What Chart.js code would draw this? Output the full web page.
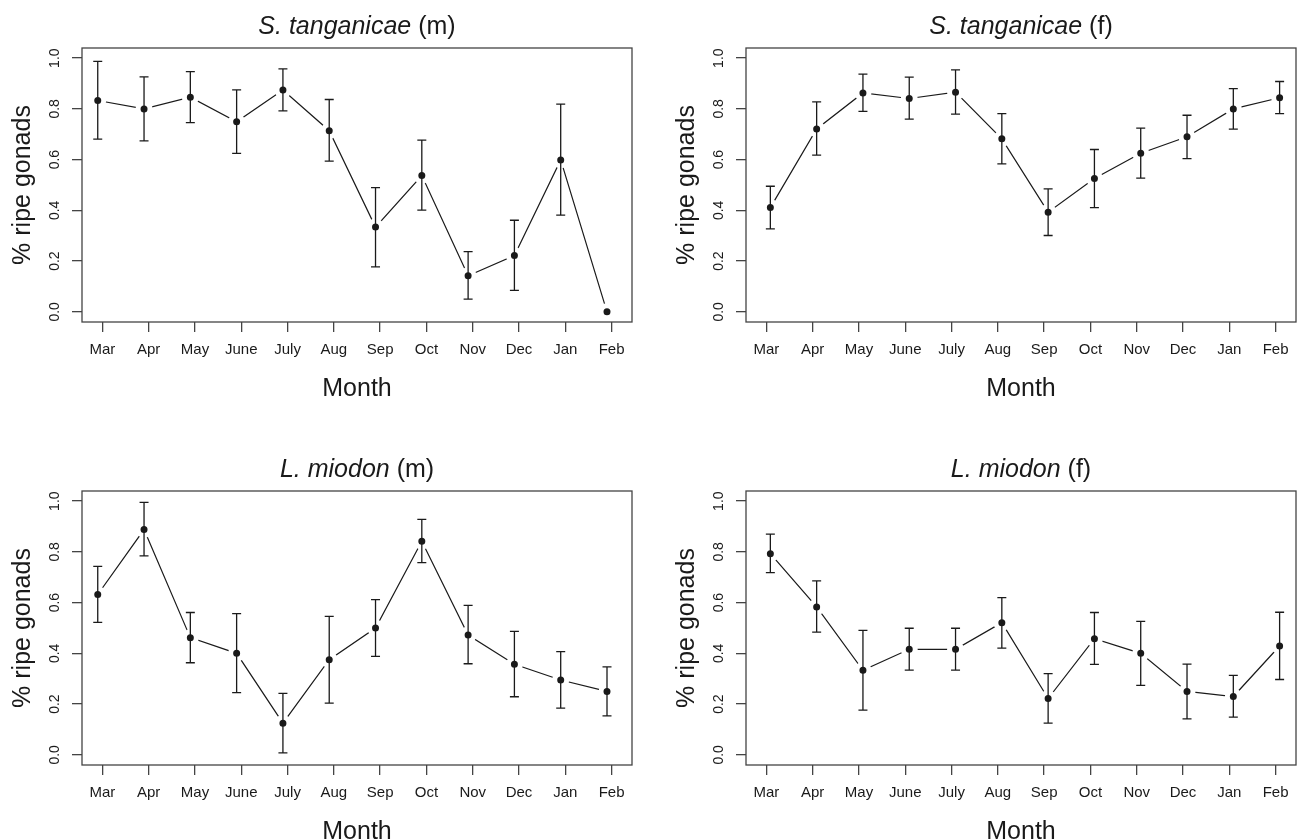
<!DOCTYPE html>
<html>
<head>
<meta charset="utf-8">
<script src="https://cdn.jsdelivr.net/npm/chart.js@4/dist/chart.umd.min.js"></script>
<style>
html, body { margin: 0; padding: 0; background: #fff; width: 1298px; height: 839px; overflow: hidden; }
.panel { position: absolute; width: 634px; height: 420px; }
</style>
</head>
<body>
<div class="panel" style="left:0;top:0"><canvas id="c1" width="634" height="420"></canvas></div>
<div class="panel" style="left:664px;top:0"><canvas id="c2" width="634" height="420"></canvas></div>
<div class="panel" style="left:0;top:443px"><canvas id="c3" width="634" height="420"></canvas></div>
<div class="panel" style="left:664px;top:443px"><canvas id="c4" width="634" height="420"></canvas></div>
<script>
const months = ['Mar', 'Apr', 'May', 'June', 'July', 'Aug', 'Sep', 'Oct', 'Nov', 'Dec', 'Jan', 'Feb'];
const yTicks = [0, 0.2, 0.4, 0.6, 0.8, 1.0];

// S. tanganicae males
const stm   = [0.833, 0.800, 0.846, 0.749, 0.874, 0.714, 0.334, 0.537, 0.142, 0.222, 0.599, 0.000];
const stmLo = [0.681, 0.674, 0.746, 0.625, 0.792, 0.594, 0.177, 0.401, 0.050, 0.085, 0.381, 0.000];
const stmHi = [0.987, 0.926, 0.947, 0.875, 0.958, 0.837, 0.490, 0.677, 0.237, 0.361, 0.819, 0.000];

// S. tanganicae females
const stf   = [0.411, 0.721, 0.863, 0.841, 0.866, 0.682, 0.393, 0.526, 0.625, 0.690, 0.800, 0.844];
const stfLo = [0.327, 0.618, 0.790, 0.760, 0.779, 0.583, 0.301, 0.411, 0.527, 0.604, 0.720, 0.781];
const stfHi = [0.495, 0.828, 0.937, 0.925, 0.954, 0.781, 0.485, 0.640, 0.724, 0.775, 0.880, 0.908];

// L. miodon males
const lmm   = [0.632, 0.888, 0.462, 0.400, 0.125, 0.375, 0.500, 0.842, 0.472, 0.357, 0.295, 0.250];
const lmmLo = [0.522, 0.784, 0.363, 0.245, 0.008, 0.204, 0.388, 0.758, 0.359, 0.229, 0.184, 0.154];
const lmmHi = [0.743, 0.995, 0.561, 0.557, 0.242, 0.546, 0.612, 0.928, 0.589, 0.487, 0.407, 0.347];

// L. miodon females
const lmf   = [0.793, 0.583, 0.333, 0.416, 0.416, 0.521, 0.222, 0.458, 0.400, 0.250, 0.230, 0.429];
const lmfLo = [0.718, 0.484, 0.176, 0.334, 0.334, 0.421, 0.125, 0.357, 0.274, 0.142, 0.149, 0.297];
const lmfHi = [0.870, 0.686, 0.491, 0.499, 0.499, 0.620, 0.320, 0.561, 0.526, 0.358, 0.313, 0.562];

const species = ['S. tanganicae', 'S. tanganicae', 'L. miodon', 'L. miodon'];
const sexes = [' (m)', ' (f)', ' (m)', ' (f)'];

const FONT = '"Liberation Sans", Arial, Helvetica, sans-serif';
const INK = '#1a1a1a';

// R-style error bars with flat caps
const errBars = {
  id: 'errBars',
  afterDatasetsDraw(chart, args, opts) {
    const ctx = chart.ctx;
    const xs = chart.scales.xd, ys = chart.scales.y;
    ctx.save();
    ctx.strokeStyle = INK;
    ctx.lineWidth = 1.3;
    opts.lo.forEach((lo, i) => {
      const hi = opts.hi[i];
      if (hi - lo < 1e-6) return;
      const x = xs.getPixelForValue(i);
      const y1 = ys.getPixelForValue(hi), y2 = ys.getPixelForValue(lo);
      ctx.beginPath();
      ctx.moveTo(x, y1); ctx.lineTo(x, y2);
      ctx.moveTo(x - 4.5, y1); ctx.lineTo(x + 4.5, y1);
      ctx.moveTo(x - 4.5, y2); ctx.lineTo(x + 4.5, y2);
      ctx.stroke();
    });
    ctx.restore();
  }
};

// box around the plot region + mixed italic title
const frame = {
  id: 'frame',
  afterDraw(chart, args, opts) {
    const ctx = chart.ctx, a = chart.chartArea;
    ctx.save();
    ctx.strokeStyle = '#444';
    ctx.lineWidth = 1.3;
    ctx.strokeRect(a.left, a.top, a.right - a.left, a.bottom - a.top);
    const itF = 'italic 25px ' + FONT, nF = '25px ' + FONT;
    ctx.font = itF;
    const w1 = ctx.measureText(opts.italic).width;
    ctx.font = nF;
    const w2 = ctx.measureText(opts.normal).width;
    let x = (a.left + a.right) / 2 - (w1 + w2) / 2;
    ctx.fillStyle = INK;
    ctx.textAlign = 'left';
    ctx.textBaseline = 'middle';
    ctx.font = itF;
    ctx.fillText(opts.italic, x, 27);
    ctx.font = nF;
    ctx.fillText(opts.normal, x + w1, 27);
    ctx.restore();
  }
};

function makePanel(id, k, vals, lo, hi, shift) {
  const ctx = document.getElementById(id).getContext('2d');
  new Chart(ctx, {
    type: 'line',
    data: {
      datasets: [{
        data: vals.map((v, i) => ({ x: i, y: v })),
        xAxisID: 'xd',
        yAxisID: 'y',
        borderColor: INK,
        borderWidth: 1.2,
        pointRadius: 6,
        pointBorderWidth: 5,
        pointBackgroundColor: INK,
        pointBorderColor: '#fff',
        tension: 0,
        fill: false
      }]
    },
    options: {
      responsive: false,
      animation: false,
      devicePixelRatio: 1,
      layout: { autoPadding: false, padding: { top: 48, right: 2, left: 0, bottom: 0 } },
      plugins: {
        legend: { display: false },
        tooltip: { enabled: false },
        errBars: { lo: lo, hi: hi },
        frame: { italic: species[k], normal: sexes[k] }
      },
      scales: {
        x: {
          type: 'linear',
          position: 'bottom',
          min: -0.44,
          max: 11.44,
          afterFit: s => { s.height = 98; s.paddingLeft = 0; s.paddingRight = 0; },
          ticks: {
            stepSize: 1,
            includeBounds: false,
            autoSkip: false,
            minRotation: 0,
            maxRotation: 0,
            padding: 9,
            color: INK,
            font: { family: FONT, size: 15 },
            callback: v => months[v]
          },
          grid: { drawOnChartArea: false, drawTicks: true, tickLength: 10, color: '#444', lineWidth: 1.3 },
          border: { display: false },
          title: { display: true, text: 'Month', color: INK, font: { family: FONT, size: 25 }, padding: { top: 0, bottom: 16 } }
        },
        xd: { type: 'linear', display: false, min: -0.44 + shift, max: 11.44 + shift },
        y: {
          type: 'linear',
          position: 'left',
          min: -0.04,
          max: 1.04,
          afterFit: s => { s.width = 82; s.paddingTop = 0; s.paddingBottom = 0; },
          afterBuildTicks: s => { s.ticks = yTicks.map(v => ({ value: v })); },
          ticks: {
            minRotation: 90,
            maxRotation: 90,
            crossAlign: 'center',
            padding: 7,
            color: INK,
            font: { family: FONT, size: 14 },
            callback: v => v.toFixed(1)
          },
          grid: { drawOnChartArea: false, drawTicks: true, tickLength: 10, color: '#444', lineWidth: 1.3 },
          border: { display: false },
          title: { display: true, text: '% ripe gonads', color: INK, font: { family: FONT, size: 25 }, padding: { top: 8 } }
        }
      }
    },
    plugins: [errBars, frame]
  });
}

makePanel('c1', 0, stm, stmLo, stmHi, 0.1);
makePanel('c2', 1, stf, stfLo, stfHi, -0.086);
makePanel('c3', 2, lmm, lmmLo, lmmHi, 0.1);
makePanel('c4', 3, lmf, lmfLo, lmfHi, -0.086);
</script>
</body>
</html>
